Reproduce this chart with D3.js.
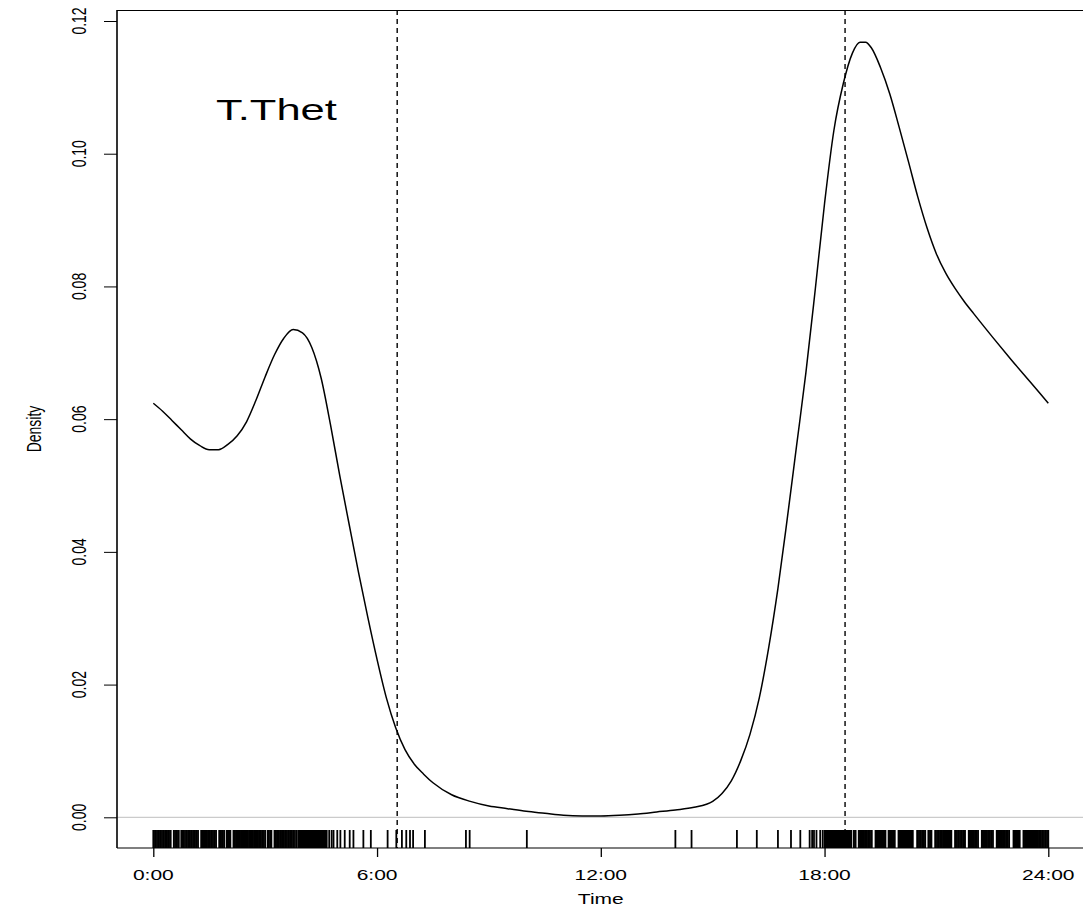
<!DOCTYPE html>
<html>
<head>
<meta charset="utf-8">
<script src="https://cdn.jsdelivr.net/npm/d3@7"></script>
<style>
  html, body { margin: 0; padding: 0; background: #ffffff; }
  svg { display: block; font-family: "Liberation Sans", Arial, Helvetica, sans-serif; }
</style>
</head>
<body>
<div id="chart"></div>
<script>
// Activity density of T.Thet over the 24h cycle
const densityHours = [0, 0.25, 0.5, 0.75, 1, 1.25, 1.5, 1.75, 2, 2.25, 2.5, 2.75, 3, 3.25, 3.5, 3.75, 4, 4.25, 4.5, 4.75,
  5, 5.25, 5.5, 5.75, 6, 6.25, 6.5, 6.75, 7, 7.25, 7.5, 8, 8.5, 9, 9.5, 10, 10.5, 11, 11.5, 12, 12.5, 13, 13.5, 14, 14.5,
  15, 15.25, 15.5, 15.75, 16, 16.25, 16.5, 16.75, 17, 17.25, 17.5, 17.75, 18, 18.25, 18.5, 18.75, 18.95, 19.1, 19.25,
  19.5, 19.75, 20, 20.25, 20.5, 20.75, 21, 21.25, 21.5, 21.75, 22, 22.5, 23, 23.5, 24];
const densityValues = [0.0624, 0.0612, 0.0598, 0.0584, 0.0570, 0.0560, 0.0554, 0.0554, 0.0562, 0.0575, 0.0596, 0.0628,
  0.0664, 0.0697, 0.0722, 0.0735, 0.0730, 0.0708, 0.0662, 0.0592,
  0.0515, 0.0442, 0.0370, 0.0302, 0.0238, 0.0180, 0.0135, 0.0102, 0.0080, 0.0065, 0.0052, 0.0034, 0.0024, 0.0017,
  0.0013, 0.0009, 0.0006, 0.0003, 0.0002, 0.0002, 0.0003, 0.0005, 0.0008, 0.0011, 0.0015,
  0.0024, 0.0036, 0.0055, 0.0085, 0.0125, 0.0180, 0.0255, 0.0345, 0.0450, 0.0560, 0.0670, 0.0795, 0.0925, 0.1035,
  0.1105, 0.1152, 0.1168, 0.1168, 0.1160,
  0.1130, 0.1090, 0.1040, 0.0988, 0.0935, 0.0888, 0.0849, 0.0820, 0.0797, 0.0777, 0.0759, 0.0724, 0.0690, 0.0657, 0.0624];

// Detection times (minutes after midnight) shown as the rug
const rugMinutes = [0, 1, 3, 4, 6, 8, 9, 11, 12, 14, 16, 17, 19, 21, 22, 24, 25, 27, 28, 33, 35, 37, 38, 40, 41, 45, 47,
  49, 51, 53, 54, 56, 58, 59, 61, 62, 64, 66, 67, 69, 70, 72, 77, 79, 81, 83, 84, 86, 88, 89, 91, 93, 94, 96, 98, 99,
  101, 106, 108, 109, 111, 112, 114, 118, 120, 121, 123, 124, 129, 131, 133, 134, 136, 137, 139, 141, 142, 144, 145,
  147, 149, 150, 152, 154, 155, 157, 158, 160, 162, 163, 165, 166, 168, 170, 171, 173, 175, 176, 178, 180, 184, 186,
  188, 190, 195, 197, 199, 200, 202, 204, 205, 207, 208, 210, 212, 213, 215, 217, 218, 220, 221, 223, 225, 226, 228,
  231, 234, 235, 236, 237, 238, 239, 240, 241, 242, 243, 244, 245, 246, 247, 248, 249, 250, 251, 252, 253, 254, 255,
  256, 257, 258, 259, 260, 261, 262, 263, 264, 265, 266, 267, 268, 269, 270, 271, 272, 273, 274, 275, 276, 277, 278,
  279, 283, 287, 290, 296, 301, 308, 316, 322, 338, 350, 377, 391, 400, 407, 413, 418, 437, 503, 509, 601, 840, 866,
  939, 971, 1005, 1026, 1041, 1056, 1060, 1063, 1067, 1073, 1077,
  1080, 1081, 1082, 1083, 1084, 1085, 1086, 1087, 1088, 1089, 1090, 1091, 1092, 1093, 1094, 1095, 1096, 1097, 1098,
  1099, 1100, 1101, 1102, 1103, 1104, 1105, 1106, 1107, 1108, 1109, 1110, 1111, 1112, 1113, 1114, 1115, 1116, 1117,
  1118, 1119, 1120, 1122, 1123, 1127, 1129, 1130, 1135, 1136, 1138, 1140, 1141, 1143, 1145, 1146, 1148, 1150, 1151,
  1153, 1155, 1156, 1162, 1163, 1165, 1167, 1168, 1170, 1172, 1173, 1175, 1177, 1178, 1183, 1185, 1186, 1188, 1190,
  1191, 1193, 1199, 1200, 1202, 1204, 1205, 1207, 1209, 1210, 1212, 1214, 1215, 1217, 1219, 1220, 1222, 1229, 1230,
  1232, 1234, 1235, 1237, 1239, 1240, 1242, 1247, 1248, 1250, 1252, 1258, 1259, 1261, 1263, 1264, 1266, 1268, 1269,
  1271, 1273, 1274, 1276, 1278, 1279, 1281, 1283, 1284, 1290, 1291, 1293, 1295, 1296, 1298, 1300, 1301, 1303, 1305,
  1306, 1312, 1313, 1315, 1317, 1318, 1320, 1322, 1323, 1325, 1327, 1333, 1334, 1336, 1338, 1339, 1341, 1343, 1344,
  1346, 1348, 1349, 1351, 1357, 1358, 1360, 1362, 1363, 1365, 1367, 1368, 1370, 1372, 1373, 1375, 1377, 1384, 1385,
  1387, 1389, 1390, 1392, 1394, 1400, 1401, 1403, 1405, 1406, 1408, 1410, 1411, 1413, 1415, 1416, 1418, 1420, 1421,
  1423, 1425, 1426, 1428, 1430, 1431, 1433, 1435, 1436, 1438, 1440];

// Sunrise / sunset markers (hours)
const sunLines = [6.54, 18.55];

const xTickHours = [0, 6, 12, 18, 24];
const xTickLabels = ["0:00", "6:00", "12:00", "18:00", "24:00"];
const yTickValues = [0, 0.02, 0.04, 0.06, 0.08, 0.10, 0.12];

const speciesName = "T.Thet";

const width = 1083, height = 918;
const box = { left: 117, top: 10, right: 1090, bottom: 848 };
const stretch = 1.5; // text in the original is widened horizontally

const svg = d3.select('#chart').append('svg')
  .attr('width', width)
  .attr('height', height);

const x = d3.scaleLinear().domain([0, 24]).range([153.3, 1048.3]);
const y = d3.scaleLinear().domain([0, 0.12]).range([817.3, 21]);

// Zero reference line
svg.append('line')
  .attr('x1', box.left).attr('x2', box.right)
  .attr('y1', y(0)).attr('y2', y(0))
  .style('stroke', '#bebebe')
  .style('stroke-width', 1);

// Rug of observations
svg.append('g')
  .selectAll('line')
  .data(rugMinutes)
  .join('line')
  .attr('x1', d => x(d / 60)).attr('x2', d => x(d / 60))
  .attr('y1', 830).attr('y2', box.bottom)
  .style('stroke', '#000')
  .style('stroke-width', 1.8);

// Sunrise / sunset dashed lines
svg.append('g')
  .selectAll('line')
  .data(sunLines)
  .join('line')
  .attr('x1', d => x(d)).attr('x2', d => x(d))
  .attr('y1', box.top).attr('y2', box.bottom)
  .style('stroke', '#000')
  .style('stroke-width', 1.4)
  .style('stroke-dasharray', '5,4');

// Density curve
const curveData = densityHours.map((h, i) => ({ h, v: densityValues[i] }));
svg.append('path')
  .datum(curveData)
  .attr('d', d3.line().x(d => x(d.h)).y(d => y(d.v)).curve(d3.curveMonotoneX))
  .style('fill', 'none')
  .style('stroke', '#000')
  .style('stroke-width', 1.5);

// Plot frame (right side falls off the canvas)
svg.append('line')
  .attr('x1', box.left).attr('x2', box.right)
  .attr('y1', box.top + 0.5).attr('y2', box.top + 0.5)
  .style('stroke', '#000').style('stroke-width', 1);
svg.append('line')
  .attr('x1', box.left).attr('x2', box.right)
  .attr('y1', box.bottom).attr('y2', box.bottom)
  .style('stroke', '#000').style('stroke-width', 1.2);
svg.append('line')
  .attr('x1', box.left).attr('x2', box.left)
  .attr('y1', box.top).attr('y2', box.bottom)
  .style('stroke', '#000').style('stroke-width', 1.6);

// Y axis ticks + rotated labels
const yAxis = svg.append('g')
  .attr('transform', `translate(${box.left},0)`)
  .call(d3.axisLeft(y).tickValues(yTickValues).tickSize(13).tickFormat(''));
yAxis.select('.domain').remove();
yAxis.selectAll('.tick line').style('stroke', '#000');

svg.append('g')
  .selectAll('text')
  .data(yTickValues)
  .join('text')
  .attr('transform', d => `translate(78,${y(d)}) scale(${stretch},1) rotate(-90)`)
  .attr('text-anchor', 'middle')
  .attr('dy', '0.36em')
  .style('font-size', '14px')
  .text(d => d3.format('.2f')(d));

// X axis ticks + labels
const xAxis = svg.append('g')
  .attr('transform', `translate(0,${box.bottom})`)
  .call(d3.axisBottom(x).tickValues(xTickHours).tickSize(9).tickFormat(''));
xAxis.select('.domain').remove();
xAxis.selectAll('.tick line').style('stroke', '#000').style('stroke-width', 1.3);

svg.append('g')
  .selectAll('text')
  .data(xTickHours)
  .join('text')
  .attr('transform', (d, i) => `translate(${x(d)},880) scale(${stretch},1)`)
  .attr('text-anchor', 'middle')
  .style('font-size', '14px')
  .text((d, i) => xTickLabels[i]);

// Axis titles
svg.append('text')
  .attr('transform', `translate(${x(12)},904) scale(${stretch},1)`)
  .attr('text-anchor', 'middle')
  .style('font-size', '14px')
  .text('Time');

svg.append('text')
  .attr('transform', `translate(33,${(box.top + box.bottom) / 2}) scale(${stretch},1) rotate(-90)`)
  .attr('text-anchor', 'middle')
  .attr('dy', '0.36em')
  .style('font-size', '14px')
  .text('Density');

// Species label
svg.append('text')
  .attr('transform', `translate(216,120) scale(${stretch},1)`)
  .style('font-size', '29px')
  .text(speciesName);
</script>
</body>
</html>
